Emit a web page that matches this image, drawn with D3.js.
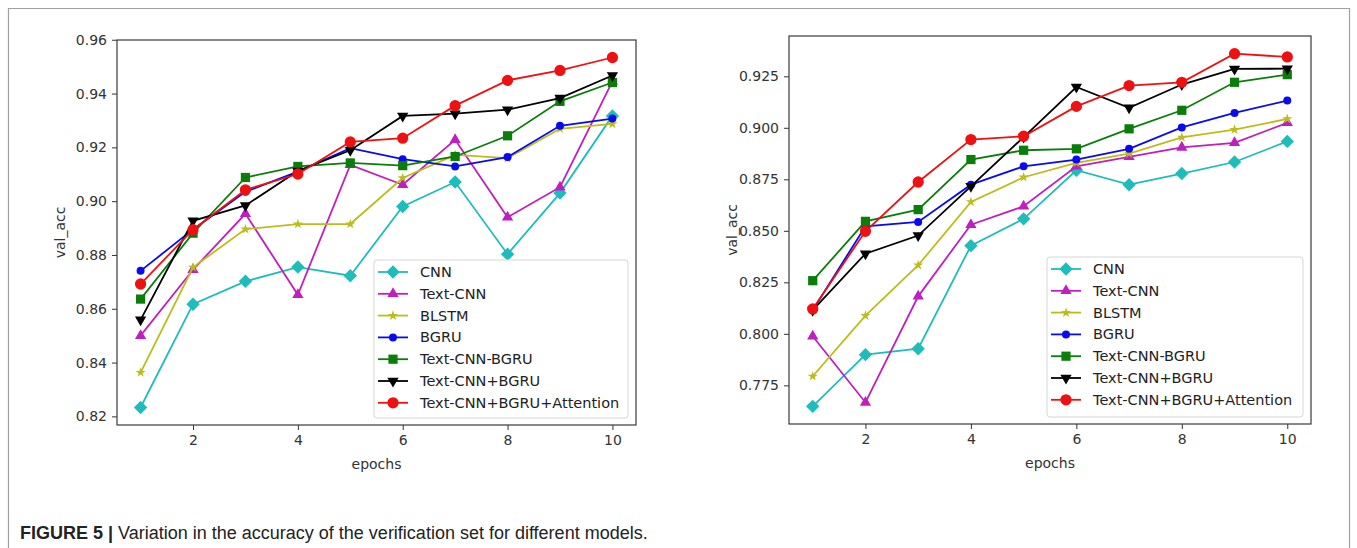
<!DOCTYPE html>
<html>
<head>
<meta charset="utf-8">
<script src="https://cdn.jsdelivr.net/npm/d3@7"></script>
<style>
  body { margin: 0; background: #fff; }
  svg { display: block; }
  .tick text { font-family: "DejaVu Sans", sans-serif; font-size: 14px; fill: #333; }
  .axlabel { font-family: "DejaVu Sans", sans-serif; font-size: 14px; fill: #333; }
  .legtext { font-family: "DejaVu Sans", sans-serif; font-size: 14.5px; fill: #222; }
  .caption { font-family: "Liberation Sans", Arial, sans-serif; font-size: 18px; fill: #222; }
</style>
</head>
<body>
<script>
// epochs on the x axis
var epochs = [1, 2, 3, 4, 5, 6, 7, 8, 9, 10];
var seriesNames = ["CNN", "Text-CNN", "BLSTM", "BGRU", "Text-CNN-BGRU", "Text-CNN+BGRU", "Text-CNN+BGRU+Attention"];

// left panel values (val_acc)
var cnnA         = [0.8233, 0.8617, 0.8702, 0.8755, 0.8723, 0.8980, 0.9071, 0.8803, 0.9030, 0.9317];
var textCnnA     = [0.8500, 0.8745, 0.8953, 0.8652, 0.9135, 0.9061, 0.9228, 0.8940, 0.9052, 0.9445];
var blstmA       = [0.8363, 0.8754, 0.8896, 0.8915, 0.8915, 0.9086, 0.9172, 0.9160, 0.9269, 0.9287];
var bgruA        = [0.8741, 0.8895, 0.9035, 0.9110, 0.9197, 0.9156, 0.9129, 0.9164, 0.9280, 0.9307];
var textCnnBgruA = [0.8636, 0.8881, 0.9088, 0.9129, 0.9142, 0.9132, 0.9166, 0.9243, 0.9371, 0.9441];
var plusBgruA    = [0.8559, 0.8927, 0.8984, 0.9112, 0.9189, 0.9317, 0.9325, 0.9340, 0.9383, 0.9467];
var attnA        = [0.8692, 0.8894, 0.9042, 0.9101, 0.9220, 0.9234, 0.9355, 0.9449, 0.9486, 0.9534];

// right panel values (val_acc)
var cnnB         = [0.7648, 0.7899, 0.7928, 0.8428, 0.8558, 0.8794, 0.8724, 0.8778, 0.8834, 0.8934];
var textCnnB     = [0.7988, 0.7667, 0.8182, 0.8530, 0.8619, 0.8813, 0.8859, 0.8905, 0.8927, 0.9024];
var blstmB       = [0.7794, 0.8088, 0.8333, 0.8640, 0.8760, 0.8830, 0.8875, 0.8954, 0.8991, 0.9043];
var bgruB        = [0.8115, 0.8522, 0.8543, 0.8724, 0.8813, 0.8846, 0.8898, 0.9002, 0.9072, 0.9132];
var textCnnBgruB = [0.8258, 0.8546, 0.8603, 0.8846, 0.8891, 0.8898, 0.8995, 0.9085, 0.9221, 0.9258];
var plusBgruB    = [0.8115, 0.8389, 0.8477, 0.8716, 0.8955, 0.9198, 0.9097, 0.9210, 0.9286, 0.9287];
var attnB        = [0.8121, 0.8498, 0.8737, 0.8943, 0.8959, 0.9104, 0.9205, 0.9221, 0.9360, 0.9344];

// tick labels
var xTicks = [2, 4, 6, 8, 10];
var yTicksA = [0.82, 0.84, 0.86, 0.88, 0.90, 0.92, 0.94, 0.96];
var yTicksB = [0.775, 0.800, 0.825, 0.850, 0.875, 0.900, 0.925];

// matplotlib-ish colours + marker for each series
var styles = [
  {color: "#1fbcbc", shape: "diamond",  size: 90},
  {color: "#bf1fbf", shape: "triUp",    size: 55},
  {color: "#bcbc1a", shape: "star",     size: 32},
  {color: "#0a0aee", shape: "circle",   size: 50},
  {color: "#0b7d0b", shape: "square",   size: 85},
  {color: "#000000", shape: "triDown",  size: 55},
  {color: "#ee1111", shape: "circle",   size: 100}
];

var W = 1357, H = 548;
var svg = d3.select("body").append("svg")
    .attr("width", W)
    .attr("height", H);

// outer figure frame
svg.append("path")
    .attr("d", "M8.5,560 V8.5 H1349.5 V560")
    .attr("fill", "none")
    .attr("stroke", "#a0a0a0")
    .attr("stroke-width", 1.2);

function symbolPath(shape, size) {
    if (shape == "diamond") return d3.symbol().type(d3.symbolSquare).size(size)();
    if (shape == "triUp" || shape == "triDown") return d3.symbol().type(d3.symbolTriangle).size(size)();
    if (shape == "star") return d3.symbol().type(d3.symbolStar).size(size)();
    if (shape == "square") return d3.symbol().type(d3.symbolSquare).size(size)();
    return d3.symbol().type(d3.symbolCircle).size(size)();
}
function symbolRot(shape) {
    if (shape == "diamond") return 45;
    if (shape == "triDown") return 180;
    return 0;
}

function drawPanel(box, series, yTicks, yFmt, legendBox) {
    var g = svg.append("g");
    var all = [].concat.apply([], series);
    var ext = d3.extent(all);
    var pad = (ext[1] - ext[0]) * 0.05;

    var x = d3.scaleLinear().domain([0.55, 10.45]).range([box.left, box.right]);
    var y = d3.scaleLinear().domain([ext[0] - pad, ext[1] + pad]).range([box.bottom, box.top]);

    // axes
    g.append("g")
        .attr("transform", "translate(0," + box.bottom + ")")
        .call(d3.axisBottom(x).tickValues(xTicks).tickSize(5).tickPadding(5).tickFormat(d3.format("d")))
        .call(function(s) { s.select(".domain").remove(); s.selectAll("line").attr("stroke", "#333"); });
    g.append("g")
        .attr("transform", "translate(" + box.left + ",0)")
        .call(d3.axisLeft(y).tickValues(yTicks).tickSize(5).tickPadding(5).tickFormat(d3.format(yFmt)))
        .call(function(s) { s.select(".domain").remove(); s.selectAll("line").attr("stroke", "#333"); });

    g.append("rect")
        .attr("x", box.left).attr("y", box.top)
        .attr("width", box.right - box.left).attr("height", box.bottom - box.top)
        .attr("fill", "none").attr("stroke", "#3a3a3a").attr("stroke-width", 1.2);

    // lines + markers
    var line = d3.line()
        .x(function(d, i) { return x(epochs[i]); })
        .y(function(d) { return y(d); });
    series.forEach(function(vals, k) {
        var st = styles[k];
        g.append("path")
            .datum(vals)
            .attr("fill", "none")
            .attr("stroke", st.color)
            .attr("stroke-width", 1.8)
            .attr("d", line);
        g.selectAll(".m" + k)
            .data(vals)
            .enter().append("path")
            .attr("d", symbolPath(st.shape, st.size))
            .attr("transform", function(d, i) { return "translate(" + x(epochs[i]) + "," + y(d) + ") rotate(" + symbolRot(st.shape) + ")"; })
            .attr("fill", st.color);
    });

    // axis labels
    g.append("text")
        .attr("class", "axlabel")
        .attr("x", (box.left + box.right) / 2)
        .attr("y", box.bottom + 44)
        .attr("text-anchor", "middle")
        .text("epochs");
    g.append("text")
        .attr("class", "axlabel")
        .attr("transform", "translate(" + (box.left - 52) + "," + ((box.top + box.bottom) / 2) + ") rotate(-90)")
        .attr("text-anchor", "middle")
        .text("val_acc");

    // legend
    var lg = g.append("g");
    var lx = box.right - 8 - legendBox.w, ly = box.bottom - 7 - legendBox.h;
    lg.append("rect")
        .attr("x", lx).attr("y", ly)
        .attr("width", legendBox.w).attr("height", legendBox.h)
        .attr("rx", 3)
        .attr("fill", "#fff").attr("fill-opacity", 0.85)
        .attr("stroke", "#d6d6d6");
    seriesNames.forEach(function(name, k) {
        var st = styles[k];
        var ry = ly + 12 + k * 21.8;
        lg.append("line")
            .attr("x1", lx + 4).attr("x2", lx + 34)
            .attr("y1", ry).attr("y2", ry)
            .attr("stroke", st.color).attr("stroke-width", 1.8);
        lg.append("path")
            .attr("d", symbolPath(st.shape, st.size))
            .attr("transform", "translate(" + (lx + 19) + "," + ry + ") rotate(" + symbolRot(st.shape) + ")")
            .attr("fill", st.color);
        lg.append("text")
            .attr("class", "legtext")
            .attr("x", lx + 46)
            .attr("y", ry)
            .attr("dy", "0.35em")
            .text(name);
    });
}

drawPanel({left: 117, right: 636, top: 40, bottom: 425},
    [cnnA, textCnnA, blstmA, bgruA, textCnnBgruA, plusBgruA, attnA],
    yTicksA, ".2f", {w: 254, h: 158});

drawPanel({left: 789, right: 1311, top: 36, bottom: 424},
    [cnnB, textCnnB, blstmB, bgruB, textCnnBgruB, plusBgruB, attnB],
    yTicksB, ".3f", {w: 256, h: 160});

// caption
var cap = svg.append("text")
    .attr("class", "caption")
    .attr("x", 20)
    .attr("y", 539);
cap.append("tspan").attr("font-weight", "bold").text("FIGURE 5 | ");
cap.append("tspan").text("Variation in the accuracy of the verification set for different models.");
</script>
</body>
</html>
